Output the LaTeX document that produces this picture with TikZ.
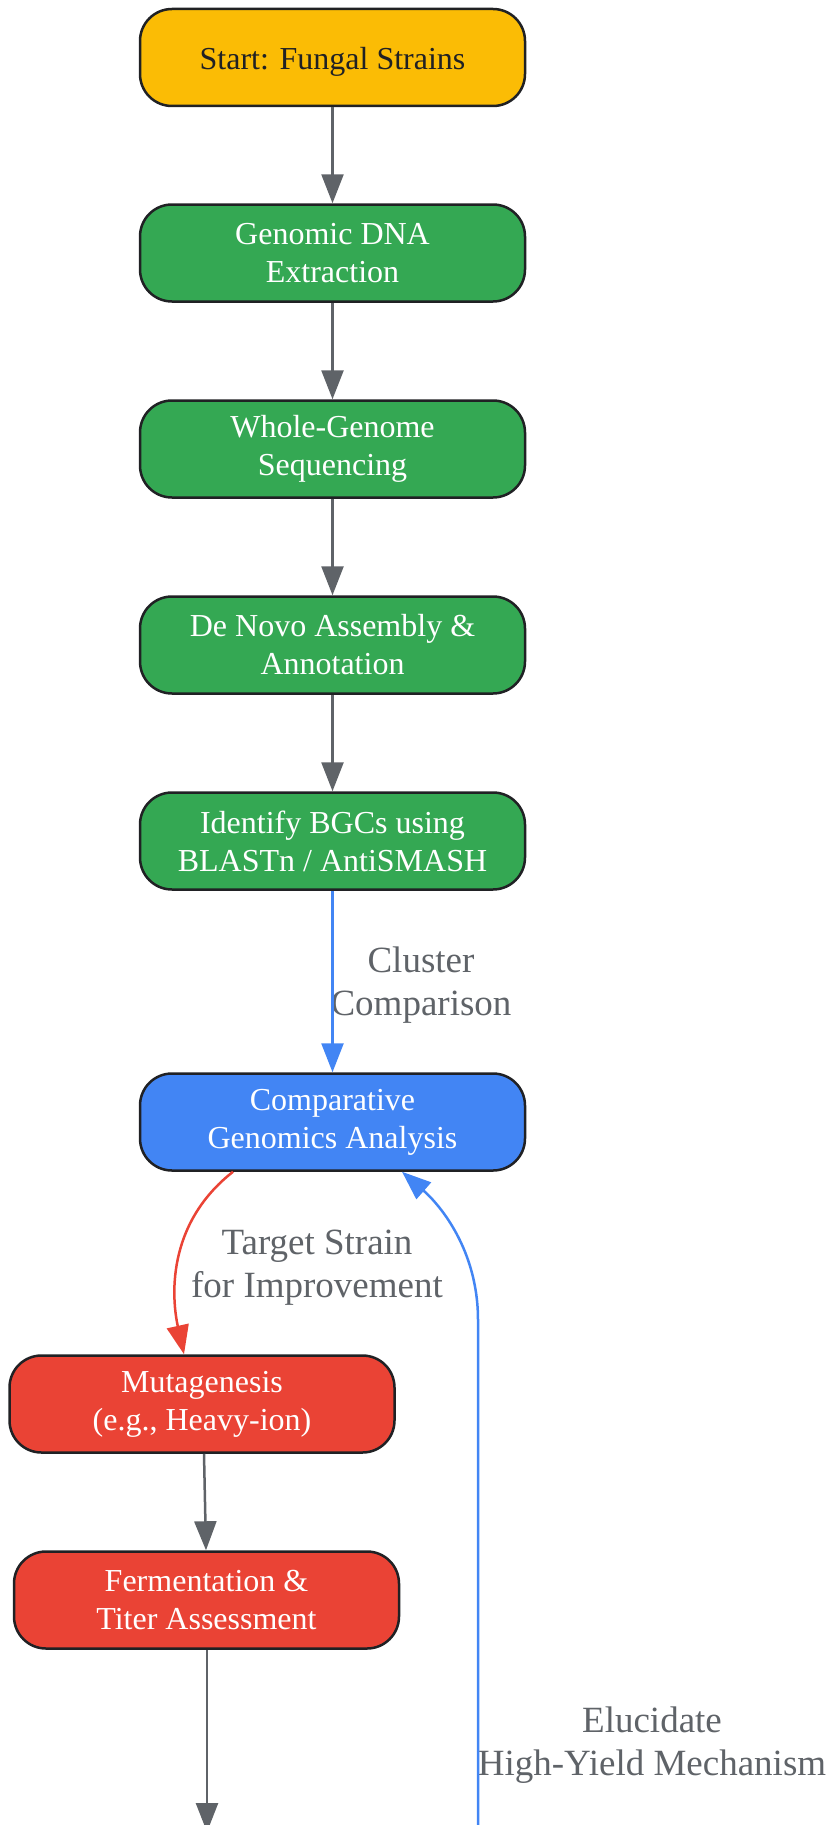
\documentclass[tikz,border=0pt]{standalone}
\usepackage{fontspec}
\setmainfont{Liberation Serif}
\usetikzlibrary{arrows.meta}
\definecolor{startColor}{HTML}{FBBC05}
\definecolor{seqColor}{HTML}{34A853}
\definecolor{compColor}{HTML}{4285F4}
\definecolor{strainColor}{HTML}{EA4335}
\definecolor{edgeColor}{HTML}{5F6368}
\definecolor{borderColor}{HTML}{202124}

\begin{document}
\begin{tikzpicture}[x=1pt,y=-1pt]

  \tikzstyle{box} = [draw=borderColor, line width=2.5pt, rounded corners=32pt, minimum width=385pt, minimum height=97pt, inner sep=0pt, align=center, text=white, font=\fontsize{32}{38}\selectfont];
  \tikzstyle{edgeLabel} = [align=center, text=edgeColor, font=\fontsize{37}{43}\selectfont];
  \tikzstyle{normalEdge} = [line width=2.5pt, edgeColor, -{Triangle[length=29pt,width=22pt]}];
  \tikzstyle{compEdge} = [line width=2.5pt, compColor, -{Triangle[length=29pt,width=22pt]}];
  \tikzstyle{strainEdge} = [line width=2.5pt, strainColor, -{Triangle[length=29pt,width=22pt]}];

  \useasboundingbox (0,0) rectangle (832,1825);

  \node[box, fill=startColor, text=borderColor, text height=26pt, text depth=1pt] (start) at (332.5,57.5) {Start: Fungal Strains};
  \node[box, fill=seqColor] (dna) at (332.5,253) {Genomic DNA\\Extraction};
  \node[box, fill=seqColor] (wgs) at (332.5,449) {Whole-Genome\\Sequencing};
  \node[box, fill=seqColor] (asm) at (332.5,645) {De Novo Assembly \&\\Annotation};
  \node[box, fill=seqColor] (bgc) at (332.5,841) {Identify BGCs using\\BLASTn / AntiSMASH};
  \node[box, fill=compColor] (comp) at (332.5,1122) {Comparative\\Genomics Analysis};
  \node[box, fill=strainColor] (mut) at (202,1404) {Mutagenesis\\(e.g., Heavy-ion)};
  \node[box, fill=strainColor] (ferm) at (206.5,1600) {Fermentation \&\\Titer Assessment};

  \coordinate (fermOut) at (207,1832);
  \coordinate (mechIn) at (478,1900);

  \node[edgeLabel] (clusterLabel) at (421,985) {Cluster\\Comparison};
  \node[edgeLabel] (targetLabel) at (317,1268) {Target Strain\\for Improvement};
  \node[edgeLabel] (mechLabel) at (652,1745) {Elucidate\\High-Yield Mechanism};

  \draw[normalEdge] (start) -- (dna);
  \draw[normalEdge] (dna) -- (wgs);
  \draw[normalEdge] (wgs) -- (asm);
  \draw[normalEdge] (asm) -- (bgc);
  \draw[compEdge] (bgc) -- (comp);
  \draw[strainEdge] (comp.south) ++(-99.5,0) .. controls (165,1225) and (172,1300) .. (mut.north -| 184,0);
  \draw[normalEdge] (mut.south -| 204,0) -- (ferm.north -| 206,0);
  \draw[normalEdge] (ferm.south -| 207,0) -- (fermOut);
  \draw[compEdge] (mechIn) -- (478,1320) .. controls (478,1250) and (440,1205) .. (comp.south -| 402,0);
\end{tikzpicture}
\end{document}
